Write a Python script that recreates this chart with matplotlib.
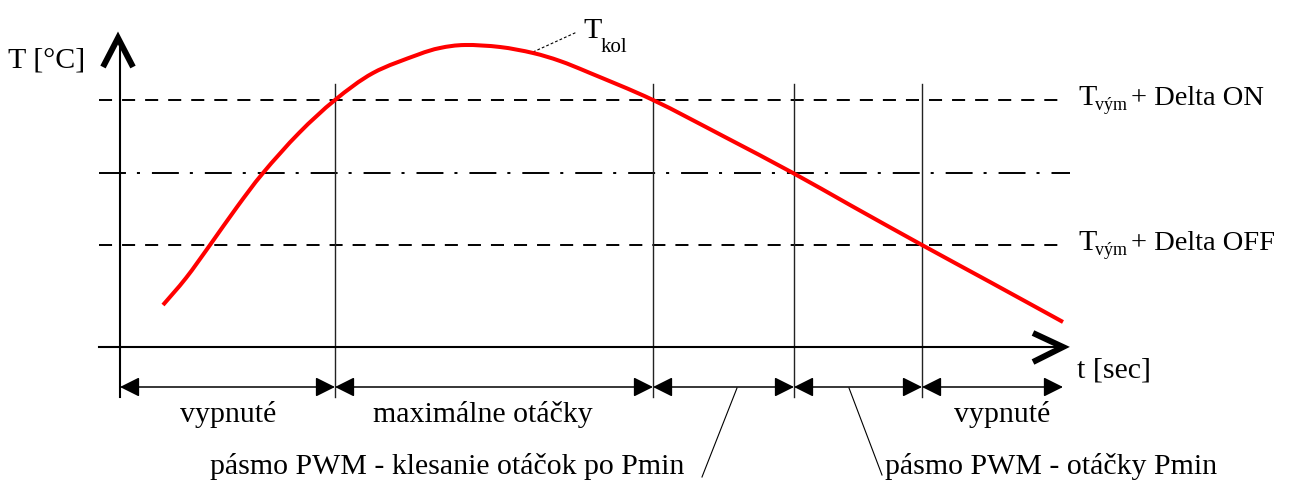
import matplotlib
matplotlib.use('Agg')
import matplotlib.pyplot as plt
from matplotlib.path import Path
from matplotlib.patches import PathPatch

plt.rcParams['font.family'] = ['Liberation Serif', 'DejaVu Serif']
plt.rcParams['lines.scale_dashes'] = False

# curve T_kol (pixel coords, y grows downwards)
curve_x = [163, 186, 210, 237, 263, 299, 335, 373, 417, 440, 465, 500, 533, 560, 590, 653, 723, 793, 850, 922, 990, 1063]
curve_y = [305, 278, 245, 207, 173, 133, 100, 73, 55, 48, 45, 47, 53, 61, 73, 100, 136, 173, 205, 245, 282, 322]

# threshold levels: delta ON, middle, delta OFF
level_on = 100
level_mid = 173
level_off = 245

# time boundaries of the zones
zone_edges = [120, 335, 653, 794, 922, 1063]
zone_labels = ['vypnuté', 'maximálne otáčky', '', '', 'vypnuté']
zone_label_x = [228, 483, None, None, 1002]

# axes geometry
x_axis_y = 347
y_axis_x = 120
arrow_row_y = 387

fig = plt.figure(figsize=(12.9, 4.93), dpi=100)
ax = fig.add_axes([0, 0, 1, 1])
ax.set_xlim(0, 1290)
ax.set_ylim(493, 0)
ax.axis('off')

# horizontal threshold lines
ax.plot([99, 1066], [level_on, level_on], color='black', lw=1.4, dashes=(9.4, 7.2))
ax.plot([99, 1066], [level_off, level_off], color='black', lw=1.4, dashes=(9.4, 7.2))
ax.plot([99, 1070], [level_mid, level_mid], color='black', lw=1.4,
        dashes=(19.4, 7.9, 2.2, 8.6))

# vertical zone lines
for xe in zone_edges[1:-1]:
    ax.plot([xe, xe], [84, 397], color='#222222', lw=1.0)

# axes
ax.plot([y_axis_x, y_axis_x], [42, 397], color='black', lw=1.5)
ax.plot([99, 1060], [x_axis_y, x_axis_y], color='black', lw=1.5)
# chevron arrow heads
ax.plot([103, 118, 133], [67, 38, 67], color='black', lw=4.3,
        solid_joinstyle='miter', solid_capstyle='butt')
ax.plot([1033, 1063, 1033], [333, 347, 362], color='black', lw=4.3,
        solid_joinstyle='miter', solid_capstyle='butt')

# red curve as a smooth bezier path through the read points (catmull-rom)
pts = list(zip(curve_x, curve_y))
verts = [pts[0]]
codes = [Path.MOVETO]
for i in range(len(pts) - 1):
    p0 = pts[max(i - 1, 0)]
    p1 = pts[i]
    p2 = pts[i + 1]
    p3 = pts[min(i + 2, len(pts) - 1)]
    c1 = (p1[0] + (p2[0] - p0[0]) / 6, p1[1] + (p2[1] - p0[1]) / 6)
    c2 = (p2[0] - (p3[0] - p1[0]) / 6, p2[1] - (p3[1] - p1[1]) / 6)
    verts += [c1, c2, p2]
    codes += [Path.CURVE4] * 3
ax.add_patch(PathPatch(Path(verts, codes), fill=False, edgecolor='#ff0000',
                       lw=2.9, capstyle='butt', zorder=5))

# double arrows for zones
for i in range(len(zone_edges) - 1):
    ax.annotate('', xy=(zone_edges[i + 1], arrow_row_y), xytext=(zone_edges[i], arrow_row_y),
                arrowprops=dict(arrowstyle='<|-|>,head_length=12,head_width=6',
                                mutation_scale=1, shrinkA=0, shrinkB=0,
                                lw=1.1, color='black'))

fs = 21.5
for lab, lx in zip(zone_labels, zone_label_x):
    if lab:
        ax.text(lx, 422, lab, fontsize=fs, ha='center', va='baseline')

# leader lines for PWM zones
ax.plot([737, 702], [388, 477], color='black', lw=0.8)
ax.plot([849, 882], [388, 475], color='black', lw=0.8)
ax.text(210, 474, 'pásmo PWM - klesanie otáčok po Pmin', fontsize=fs, va='baseline')
ax.text(885, 474, 'pásmo PWM - otáčky Pmin', fontsize=fs, va='baseline')

# axis labels
ax.text(8, 67, 'T [°C]', fontsize=fs, va='baseline')
ax.text(1077, 377, 't [sec]', fontsize=fs, va='baseline')

# level labels: T, subscript vým, rest
for base_y, rest in [(105, '+ Delta ON'), (250, '+ Delta OFF')]:
    ax.text(1078, base_y, 'T', fontsize=fs, va='baseline')
    ax.text(1095, base_y + 5, 'vým', fontsize=13, va='baseline')
    ax.text(1131, base_y, rest, fontsize=20.5, va='baseline')

# T_kol label with dotted leader
ax.plot([533, 577], [52, 32], color='black', lw=0.8, dashes=(2, 1.5))
ax.text(583, 38, 'T', fontsize=fs, va='baseline')
ax.text(601, 52, 'kol', fontsize=15, va='baseline')

plt.savefig('out.png', dpi=100)
